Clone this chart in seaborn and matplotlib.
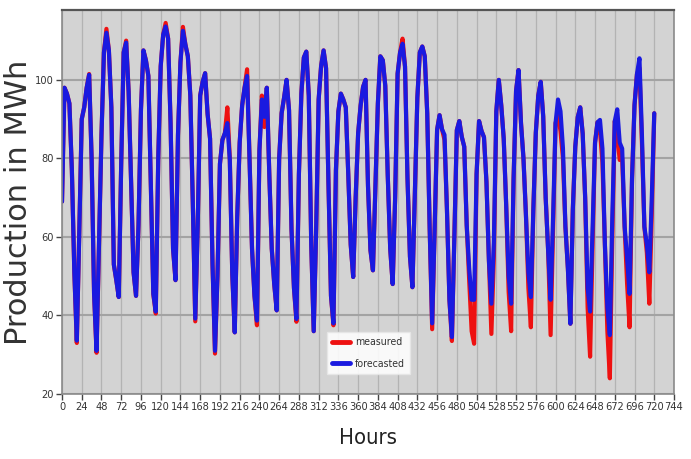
import os
import numpy as np
import pandas as pd
import matplotlib
matplotlib.use("Agg")
import matplotlib.pyplot as plt
from matplotlib import font_manager as fm
from matplotlib.font_manager import FontProperties
from matplotlib.lines import Line2D
import seaborn as sns

# ---- data (3-hour resolution) ----
hours = np.arange(0, 721, 3)

forecasted = [
    69, 98, 96.5, 94, 77, 51, 33.6, 61,
    90, 93, 98, 101.3, 80, 45.5, 31, 58,
    86, 107, 112, 107.5, 93, 53, 49, 44.7,
    79, 107, 109.5, 97, 73.5, 51, 45, 63,
    92.5, 107.5, 105, 101, 73, 45.5, 41, 80,
    103.5, 111.5, 113.6, 110.5, 89, 57, 49, 86,
    104.5, 112.5, 109, 106, 96, 69, 39.2, 63,
    96, 99.5, 101.7, 91.3, 85, 53, 31, 50,
    78.6, 84.7, 86.4, 89, 79.6, 50.5, 35.7, 65,
    84, 93.5, 98, 101, 79.6, 57, 45, 38.7,
    82, 95, 90.6, 98, 76, 57, 48, 41.3,
    80, 91.5, 95.5, 100, 92.3, 62, 47, 39.1,
    76, 96.5, 105.7, 107.2, 96, 58, 36, 62,
    95, 103.5, 107.5, 103, 73, 45, 38, 77,
    92, 96.5, 95, 93, 76, 58, 49.8, 70,
    86.4, 93.4, 98.2, 100, 73, 56.6, 51.5, 73,
    94, 106, 105, 98.5, 75.7, 57, 48, 70,
    101.6, 107, 109.2, 103.4, 75, 55, 47.2, 71,
    95.5, 107, 108.5, 106, 91.5, 62, 38, 62,
    87.3, 91, 87.4, 86, 66.8, 44, 34.5, 60,
    87.2, 89.5, 85.5, 83, 63, 52, 44, 44,
    76, 89.5, 87, 85.4, 74, 54, 43, 58.6,
    92, 100, 93.5, 85, 68, 50, 43, 75,
    97.2, 102.5, 89, 80, 65.8, 51, 44.7, 67,
    86.5, 96, 99.5, 90.7, 70, 56.5, 44, 65,
    89, 95, 92, 82.6, 62.6, 52, 37.9, 67,
    83, 90.5, 93, 86.3, 70, 47, 41, 62,
    84, 89.2, 89.8, 82.5, 58, 42, 35, 65,
    89.5, 92.5, 84, 82.5, 62.6, 54.5, 45.5, 75,
    93.6, 101.5, 105.5, 86, 62.6, 58, 51, 70,
    91.5,
]

measured = [
    69, 98, 96.5, 94, 77, 51, 33, 61,
    90, 93, 98, 101.5, 80, 45.5, 30.5, 58,
    86, 107, 113, 107.5, 93, 53, 49, 44.7,
    79, 107, 110, 97, 73.5, 51, 45, 63,
    92.5, 107.5, 105, 101, 73, 45.5, 40.5, 80,
    103.5, 111.5, 114.5, 110.5, 89, 57, 49, 86,
    104.5, 113.5, 109, 106, 96, 69, 38.5, 63,
    96, 99.5, 101.7, 91.3, 85, 53, 30.3, 50,
    78.6, 84.7, 86.4, 93, 80, 50.5, 35.7, 65,
    84, 93.5, 98, 102.7, 79.6, 57, 45, 37.5,
    82, 96, 88, 98, 76, 57, 48, 41.3,
    80, 91.5, 95.5, 100, 92.3, 62, 47, 38.4,
    76, 96.5, 105.7, 107.2, 96, 58, 36, 62,
    95, 103.5, 107.5, 103, 73, 45, 37.5, 77,
    92, 96.5, 95, 93, 76, 58, 49.8, 70,
    86.4, 93.4, 98.2, 100, 73, 56.6, 51.5, 73,
    94, 106, 105, 98.5, 75.7, 57, 48, 70,
    101.6, 107, 110.5, 103.4, 75, 55, 47.2, 71,
    95.5, 107, 108.5, 106, 91.5, 62, 36.5, 62,
    87.3, 91, 87.4, 84.7, 66.8, 44, 33.5, 60,
    87.2, 89.5, 85.5, 83, 63, 49, 36, 32.8,
    76, 89.5, 87, 85.4, 74, 54, 35.3, 55,
    92, 100, 93.5, 85, 68, 46, 36, 75,
    97.2, 102.5, 89, 80, 65.8, 47, 37, 67,
    86.5, 96, 99.5, 90.7, 70, 56.5, 35, 62,
    89, 91, 87, 80, 62.6, 52, 37.9, 67,
    83, 90.5, 93, 86.3, 70, 42, 29.5, 58,
    84, 89.2, 87, 79, 58, 36, 24, 60,
    89.5, 86, 79.6, 80, 62.6, 48, 37, 75,
    93.6, 101.5, 103, 84, 62.6, 56, 43, 66,
    91.5,
]

series_names = ["measured", "forecasted"]
series_colors = ["#ee1111", "#1a1ae0"]
x_ticks = list(range(0, 745, 24))
y_ticks = [20, 40, 60, 80, 100]

# ---- styling ----
sns.set_style("whitegrid")
plt.rcParams["font.family"] = ["DejaVu Sans"]


def pick_narrow_font():
    """Find an installed narrow / condensed sans font file, if any."""
    best, best_score = None, -1
    for f in fm.fontManager.ttflist:
        nm = f.name.lower()
        base = os.path.basename(f.fname).lower()
        st = str(f.stretch).lower()
        narrowish = ("narrow" in nm or "condensed" in nm or "condensed" in st
                     or "narrow" in base or "condensed" in base)
        if not narrowish:
            continue
        if f.style != "normal":
            continue
        if "mono" in nm or "cjk" in nm or ("serif" in nm and "sans" not in nm):
            continue
        if "bold" in base or "light" in base or "thin" in base or "black" in base \
                or "medium" in base or "italic" in base or "oblique" in base:
            continue
        w = f.weight
        if isinstance(w, str):
            w = {"normal": 400, "regular": 400, "book": 400}.get(w.lower(), 0)
        if abs(w - 400) > 50:
            continue
        score = 5
        if "liberation sans narrow" in nm:
            score = 10
        elif "dejavu" in nm:
            score = 9
        elif "semi" in base or "semi" in st:
            score = 6
        elif "extra" in base or "ultra" in base:
            score = 7
        elif "noto" in nm or "roboto" in nm or "open" in nm:
            score = 8
        if score > best_score:
            best, best_score = f, score
    return best


nf = pick_narrow_font()


def narrow_fp(size):
    if nf is not None:
        return FontProperties(fname=nf.fname, size=size)
    return FontProperties(family="DejaVu Sans", size=size)


n = len(hours)
df = pd.DataFrame({
    "Hours": np.concatenate([hours, hours]),
    "Production": np.array(measured + forecasted, dtype=float),
    "series": [series_names[0]] * n + [series_names[1]] * n,
})

fig = plt.figure(figsize=(6.91, 4.59), dpi=100)
ax = fig.add_axes([62 / 691, 65 / 459, 612 / 691, 384 / 459])
ax.set_facecolor("#d3d3d3")

sns.lineplot(data=df, x="Hours", y="Production", hue="series",
             hue_order=series_names, palette=series_colors,
             linewidth=3.0, ax=ax, legend=False)

ax.set_xlim(0, 744)
ax.set_ylim(20, 117.8)
ax.set_xticks(x_ticks)
ax.set_yticks(y_ticks)
ax.xaxis.grid(True, color="#b3b3b3", linewidth=0.9)
ax.yaxis.grid(True, color="#a3a3a3", linewidth=1.5)
ax.set_axisbelow(True)

for side, sp in ax.spines.items():
    sp.set_visible(True)
    sp.set_color("#8a8a8a")
    sp.set_linewidth(1.2)
ax.spines["top"].set_color("#555555")
ax.spines["top"].set_linewidth(1.6)

# measure text widths to size the narrow font to the reference
renderer = fig.canvas.get_renderer()


def width_at(text, size):
    t = fig.text(0, 0, text, fontproperties=narrow_fp(size))
    w = t.get_window_extent(renderer=renderer).width
    t.remove()
    return w


tick_size = min(11.0, 10.0 * 18.8 / width_at("744", 10.0))
xlabel_size = min(21.0, 10.0 * 58.0 / width_at("Hours", 10.0))
legend_size = min(10.0, 10.0 * 50.0 / width_at("forecasted", 10.0))

ax.tick_params(axis="both", direction="out", length=4, width=1,
               color="#444444", labelcolor="#333333",
               bottom=True, left=True, pad=2)
for lbl in ax.get_xticklabels() + ax.get_yticklabels():
    lbl.set_fontproperties(narrow_fp(tick_size))

ax.set_xlabel("Hours", fontproperties=narrow_fp(xlabel_size), color="#222222")
ax.xaxis.set_label_coords(0.5, -0.088)
ax.set_ylabel("Production in MWh", fontsize=22, color="#333333",
              family=["DejaVu Sans"])
ax.yaxis.set_label_coords(-0.048, 0.5)

handles = [Line2D([], [], color=c, linewidth=3.5) for c in series_colors]
leg = ax.legend(handles, series_names, loc="upper left",
                bbox_to_anchor=(0.433, 0.1615), prop=narrow_fp(legend_size),
                frameon=True, facecolor="white", edgecolor="#e6e6e6",
                framealpha=0.88, handlelength=1.7, handletextpad=0.5,
                labelspacing=1.1, borderpad=0.5, borderaxespad=0.0,
                fancybox=False)
for t in leg.get_texts():
    t.set_color("#333333")

fig.savefig("out.png", dpi=100)
